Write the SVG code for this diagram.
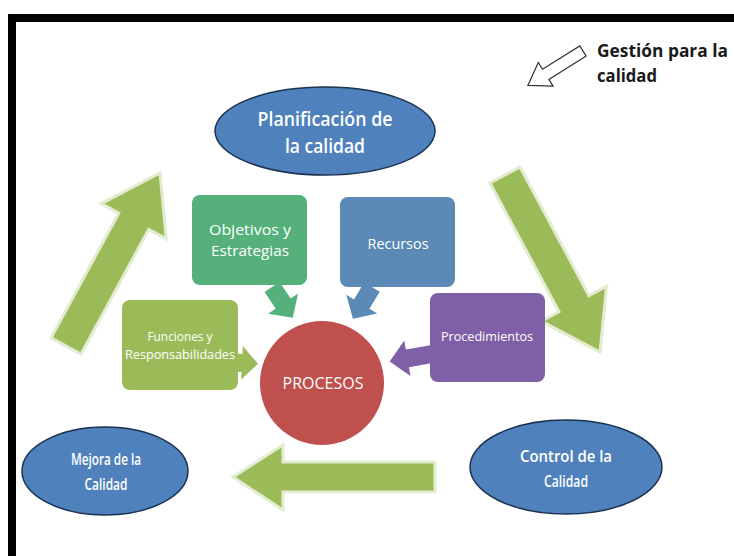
<svg xmlns="http://www.w3.org/2000/svg" width="734" height="556" viewBox="0 0 734 556">
<defs>
<style>
.big{fill:#9BBB59;stroke:#e3ebd0;stroke-width:3;stroke-linejoin:miter}
.ell{fill:#4F81BD;stroke:#1c3250;stroke-width:1.5}
.t{font-family:"Open Sans","Liberation Sans",sans-serif;fill:#ffffff;text-anchor:middle}
.tb{font-size:19px;font-weight:600}
.ts{font-size:15px}
.tm{font-size:15.5px;font-weight:600}
.tx{font-size:12.5px}
.g{font-family:"Open Sans","Liberation Sans",sans-serif;font-size:17px;font-weight:bold;fill:#1a1a1a}
</style>
</defs>
<rect x="0" y="0" width="734" height="556" fill="#ffffff"/>
<rect x="12" y="18" width="800" height="700" fill="none" stroke="#000000" stroke-width="8"/>

<g id="connectors">
  <polygon class="big" transform="translate(66,346) rotate(-61.5)" points="0,-17 142,-17 142,-37 197,0 142,37 142,17 0,17"/>
  <polygon class="big" transform="translate(505,175) rotate(61.8)" points="0,-17 146,-17 146,-37 201,0 146,37 146,17 0,17"/>
  <polygon class="big" points="435,462 283,462 283,445 233,477 283,510 283,492 435,492"/>
  <polygon fill="#55B07B" transform="translate(272,287) rotate(56)" points="0,-9 20,-9 20,-18 37,0 20,18 20,9 0,9"/>
  <polygon fill="#5A8AB5" transform="translate(372,287) rotate(121)" points="0,-9 20,-9 20,-18 37,0 20,18 20,9 0,9"/>
  <polygon fill="#7F5FA6" transform="translate(432,354) rotate(170)" points="0,-9 25,-9 25,-18 43,0 25,18 25,9 0,9"/>
  <polygon fill="#9BBB59" transform="translate(225,362) rotate(3)" points="0,-9 17,-9 17,-17 33,0 17,17 17,9 0,9"/>
  <polygon fill="#ffffff" stroke="#333333" stroke-width="1.2" transform="translate(583,51) rotate(148)" points="0,-6 44,-6 44,-14 65,0 44,14 44,6 0,6"/>
</g>

<g id="gestion">
  <text class="g" x="597" y="57" textLength="131" lengthAdjust="spacingAndGlyphs">Gestión para la</text>
  <text class="g" x="597" y="82" textLength="60" lengthAdjust="spacingAndGlyphs">calidad</text>
</g>

<g id="planificacion">
  <ellipse class="ell" cx="325" cy="131" rx="110" ry="44"/>
  <text class="t tb" x="325" y="126" textLength="135" lengthAdjust="spacingAndGlyphs">Planificación de</text>
  <text class="t tb" x="325" y="153" textLength="80" lengthAdjust="spacingAndGlyphs">la calidad</text>
</g>

<g id="objetivos">
  <rect x="192" y="195" width="115" height="90" rx="8" fill="#55B07B"/>
  <text class="t ts" x="250" y="235" textLength="82" lengthAdjust="spacingAndGlyphs">Objetivos y</text>
  <text class="t ts" x="250" y="256" textLength="78" lengthAdjust="spacingAndGlyphs">Estrategias</text>
</g>

<g id="recursos">
  <rect x="340" y="197" width="115" height="90" rx="8" fill="#5A8AB5"/>
  <text class="t ts" x="398" y="249" textLength="61" lengthAdjust="spacingAndGlyphs">Recursos</text>
</g>

<g id="funciones">
  <rect x="122" y="300" width="116" height="90" rx="8" fill="#9BBB59"/>
  <text class="t tx" x="180" y="341" textLength="65" lengthAdjust="spacingAndGlyphs">Funciones y</text>
  <text class="t tx" x="180" y="359" textLength="110" lengthAdjust="spacingAndGlyphs">Responsabilidades</text>
</g>

<g id="procedimientos">
  <rect x="430" y="293" width="115" height="89" rx="8" fill="#7F5FA6"/>
  <text class="t tx" x="487" y="341" textLength="92" lengthAdjust="spacingAndGlyphs">Procedimientos</text>
</g>

<g id="procesos">
  <circle cx="322" cy="383" r="62" fill="#C0504D"/>
  <text class="t" x="323" y="389" font-size="17" textLength="81" lengthAdjust="spacingAndGlyphs">PROCESOS</text>
</g>

<g id="mejora">
  <ellipse class="ell" cx="105" cy="471" rx="83" ry="44"/>
  <text class="t tm" x="106" y="465" textLength="70" lengthAdjust="spacingAndGlyphs">Mejora de la</text>
  <text class="t tm" x="106" y="490" textLength="43" lengthAdjust="spacingAndGlyphs">Calidad</text>
</g>

<g id="control">
  <ellipse class="ell" cx="566" cy="467" rx="96" ry="47"/>
  <text class="t tm" x="566" y="462" textLength="92" lengthAdjust="spacingAndGlyphs">Control de la</text>
  <text class="t tm" x="566" y="487" textLength="44" lengthAdjust="spacingAndGlyphs">Calidad</text>
</g>
</svg>
